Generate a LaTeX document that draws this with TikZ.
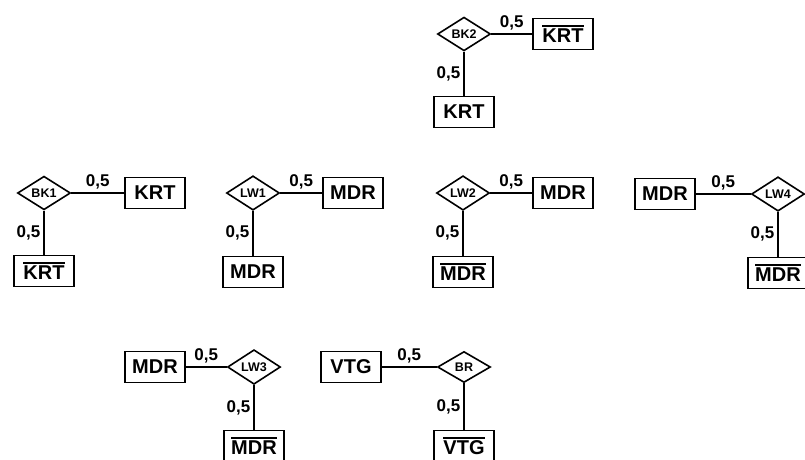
\documentclass[tikz,border=0pt]{standalone}
\usepackage{fontspec}
\setmainfont{Liberation Sans}
\usetikzlibrary{shapes.geometric}
\newcommand{\ovtext}[1]{\leavevmode\vbox{\hrule height 1.5pt\kern 2.2pt\hbox{#1}}}
\begin{document}
\begin{tikzpicture}[x=1pt,y=-1pt,
  rel/.style={diamond, draw, line width=1.6pt, minimum width=53pt, minimum height=31pt, inner sep=0pt, font=\fontsize{12.5}{12.5}\selectfont\bfseries},
  ent/.style={rectangle, draw, line width=1.6pt, minimum width=60pt, minimum height=31pt, inner sep=0pt, font=\fontsize{20}{20}\selectfont\bfseries},
  conn/.style={line width=1.5pt},
  wt/.style={font=\fontsize{17}{17}\selectfont\bfseries, inner sep=3pt}]
\useasboundingbox (0,0) rectangle (805,459);
\clip (0,0) rectangle (805,459);
% BK2
\node[rel] (bk2) at (464,34) {BK2};
\node[ent] (bk2a) at (563,34) {\ovtext{KRT}};
\node[ent] (bk2b) at (464,112) {KRT};
\draw[conn] (bk2) -- node[wt,above]{0,5} (bk2a);
\draw[conn] (bk2) -- node[wt,left]{0,5} (bk2b);
% BK1
\node[rel] (bk1) at (44,193) {BK1};
\node[ent] (bk1a) at (155,193) {KRT};
\node[ent] (bk1b) at (44,271) {\ovtext{KRT}};
\draw[conn] (bk1) -- node[wt,above]{0,5} (bk1a);
\draw[conn] (bk1) -- node[wt,left]{0,5} (bk1b);
% LW1
\node[rel] (lw1) at (253,193) {LW1};
\node[ent] (lw1a) at (353,193) {MDR};
\node[ent] (lw1b) at (253,272) {MDR};
\draw[conn] (lw1) -- node[wt,above]{0,5} (lw1a);
\draw[conn] (lw1) -- node[wt,left]{0,5} (lw1b);
% LW2
\node[rel] (lw2) at (463,193) {LW2};
\node[ent] (lw2a) at (563,193) {MDR};
\node[ent] (lw2b) at (463,272) {\ovtext{MDR}};
\draw[conn] (lw2) -- node[wt,above]{0,5} (lw2a);
\draw[conn] (lw2) -- node[wt,left]{0,5} (lw2b);
% LW4
\node[rel] (lw4) at (778,194) {LW4};
\node[ent] (lw4a) at (665,194) {MDR};
\node[ent] (lw4b) at (778,273) {\ovtext{MDR}};
\draw[conn] (lw4a) -- node[wt,above]{0,5} (lw4);
\draw[conn] (lw4) -- node[wt,left]{0,5} (lw4b);
% LW3
\node[rel] (lw3) at (254,367) {LW3};
\node[ent] (lw3a) at (155,367) {MDR};
\node[ent] (lw3b) at (254,446) {\ovtext{MDR}};
\draw[conn] (lw3a) -- node[wt,above]{0,5} (lw3);
\draw[conn] (lw3) -- node[wt,left]{0,5} (lw3b);
% BR
\node[rel] (br) at (464,367) {BR};
\node[ent] (bra) at (351,367) {VTG};
\node[ent] (brb) at (464,446) {\ovtext{VTG}};
\draw[conn] (bra) -- node[wt,above]{0,5} (br);
\draw[conn] (br) -- node[wt,left]{0,5} (brb);
\end{tikzpicture}
\end{document}
